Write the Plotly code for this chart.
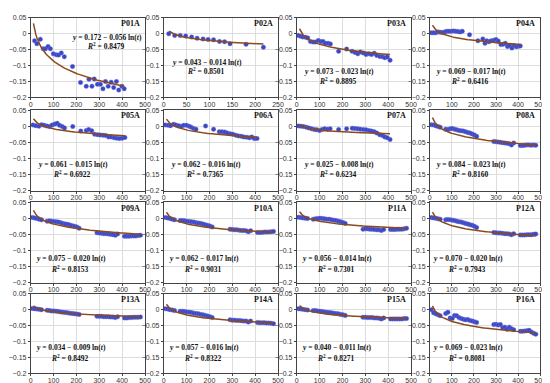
import numpy as np
import plotly.graph_objects as go

names = ["P01A", "P02A", "P03A", "P04A", "P05A", "P06A", "P07A", "P08A",
         "P09A", "P10A", "P11A", "P12A", "P13A", "P14A", "P15A", "P16A"]
coef_a = [0.172, 0.043, 0.073, 0.069, 0.061, 0.062, 0.025, 0.084,
          0.075, 0.062, 0.056, 0.070, 0.034, 0.057, 0.040, 0.069]
coef_b = [0.056, 0.014, 0.023, 0.017, 0.015, 0.016, 0.008, 0.023,
          0.020, 0.017, 0.014, 0.020, 0.009, 0.016, 0.011, 0.023]
r2_text = ["0.8479", "0.8501", "0.8895", "0.6416", "0.6922", "0.7365", "0.6234", "0.8160",
           "0.8153", "0.9031", "0.7301", "0.7943", "0.8492", "0.8322", "0.8271", "0.8081"]

x_ticks_main = [0, 100, 200, 300, 400, 500]
x_ticks_p02 = [0, 50, 100, 150, 200, 250]
y_ticks = [-0.2, -0.15, -0.1, -0.05, 0, 0.05]

t_p01 = [17, 27, 42, 55, 65, 76, 86, 99, 112, 122, 134, 147, 183, 218, 243, 255, 268, 278, 292, 305,
         316, 327, 339, 352, 363, 375, 385, 399, 409]
y_p01 = [-0.022, -0.031, -0.017, -0.047, -0.047, -0.040, -0.047, -0.063, -0.066, -0.067, -0.060, -0.072,
         -0.103, -0.153, -0.165, -0.143, -0.165, -0.142, -0.159, -0.159, -0.173, -0.150, -0.165, -0.152,
         -0.169, -0.150, -0.177, -0.165, -0.173]

t_p02 = [11, 24, 36, 48, 61, 73, 86, 97, 109, 122, 133, 145, 180, 218]
y_p02 = [0.000, -0.005, -0.005, -0.007, -0.010, -0.014, -0.016, -0.018, -0.019, -0.024, -0.025, -0.031,
         -0.033, -0.042]

t_p03 = [7, 17, 27, 39, 48, 60, 72, 82, 94, 105, 115, 125, 137, 147, 183, 218, 242, 255, 267, 278, 291,
         303, 316, 327, 339, 350, 363, 375, 385, 396, 408]
y_p03 = [-0.005, -0.008, -0.010, -0.011, -0.013, -0.024, -0.026, -0.026, -0.021, -0.024, -0.024, -0.030,
         -0.030, -0.032, -0.055, -0.048, -0.055, -0.059, -0.063, -0.057, -0.060, -0.065, -0.063, -0.065,
         -0.061, -0.068, -0.071, -0.072, -0.075, -0.073, -0.083]

t_p04 = [7, 17, 27, 37, 47, 57, 67, 77, 87, 97, 107, 117, 127, 137, 147, 180, 218, 240, 250, 258, 268,
         278, 290, 300, 310, 322, 332, 342, 352, 362, 372, 382, 392, 402, 410]
y_p04 = [0.003, 0.003, 0.003, 0.006, 0.005, 0.004, 0.006, 0.008, 0.008, 0.008, 0.009, 0.008, 0.007,
         0.006, 0.008, -0.003, -0.022, -0.016, -0.030, -0.022, -0.025, -0.022, -0.020, -0.018, -0.023,
         -0.034, -0.033, -0.030, -0.040, -0.037, -0.045, -0.037, -0.041, -0.039, -0.038]

t_p05 = [10, 22, 36, 48, 59, 71, 82, 94, 106, 116, 126, 138, 148, 184, 219, 243, 254, 267, 280, 293,
         304, 317, 329, 341, 352, 365, 377, 388, 400, 412]
y_p05 = [0.004, 0.002, 0.000, 0.005, 0.003, 0.001, -0.001, 0.004, 0.007, 0.009, 0.003, -0.001, -0.005,
         -0.001, -0.015, -0.013, -0.010, -0.014, -0.025, -0.026, -0.027, -0.028, -0.029, -0.033, -0.033,
         -0.036, -0.037, -0.038, -0.037, -0.035]

t_p06 = [7, 19, 30, 43, 53, 65, 77, 88, 100, 111, 120, 131, 141, 183, 218, 243, 255, 267, 278, 291,
         303, 316, 327, 339, 350, 363, 375, 385, 396, 408]
y_p06 = [0.004, 0.003, 0.002, 0.006, 0.004, 0.002, 0.000, 0.003, 0.003, 0.000, -0.003, -0.007, -0.009,
         0.001, -0.009, -0.017, -0.017, -0.018, -0.021, -0.023, -0.025, -0.028, -0.030, -0.031, -0.033,
         -0.034, -0.036, -0.033, -0.038, -0.038]

t_p07 = [7, 19, 30, 42, 53, 65, 77, 88, 100, 111, 122, 134, 146, 183, 218, 243, 255, 267, 278, 291,
         303, 316, 327, 339, 350, 363, 375, 385, 396, 408]
y_p07 = [0.001, 0.000, -0.001, -0.003, -0.005, -0.008, -0.010, -0.011, -0.013, -0.010, -0.008, -0.009,
         -0.008, -0.010, -0.008, -0.006, -0.007, -0.008, -0.009, -0.010, -0.011, -0.013, -0.015, -0.017,
         -0.021, -0.026, -0.029, -0.033, -0.036, -0.041]

t_long = [7, 17, 27, 37, 47, 72, 82, 92, 102, 112, 122, 132, 142, 152, 162, 172, 182, 192, 202, 212,
          290, 300, 310, 320, 330, 340, 350, 360, 370, 380, 410, 420, 430, 440, 450, 460, 470, 480]

y_p08 = [0.005, 0.004, 0.002, -0.001, -0.003, -0.009, -0.010, -0.008, -0.007, -0.009, -0.011, -0.013,
         -0.014, -0.015, -0.017, -0.019, -0.021, -0.024, -0.027, -0.031, -0.047, -0.048, -0.049, -0.050,
         -0.051, -0.052, -0.053, -0.054, -0.058, -0.052, -0.060, -0.060, -0.059, -0.058, -0.058, -0.059,
         -0.058, -0.059]
y_p09 = [0.003, 0.002, 0.000, -0.002, -0.004, -0.008, -0.007, -0.008, -0.009, -0.010, -0.011, -0.013,
         -0.015, -0.017, -0.018, -0.020, -0.022, -0.024, -0.026, -0.030, -0.044, -0.045, -0.046, -0.047,
         -0.047, -0.048, -0.049, -0.050, -0.052, -0.048, -0.055, -0.055, -0.055, -0.054, -0.054, -0.054,
         -0.053, -0.052]
y_p10 = [0.003, 0.002, 0.000, -0.002, -0.004, -0.006, -0.006, -0.007, -0.008, -0.009, -0.010, -0.011,
         -0.013, -0.014, -0.015, -0.017, -0.019, -0.021, -0.023, -0.026, -0.033, -0.034, -0.035, -0.035,
         -0.036, -0.037, -0.037, -0.038, -0.041, -0.038, -0.043, -0.043, -0.043, -0.042, -0.042, -0.042,
         -0.041, -0.040]
y_p11 = [0.004, 0.003, 0.002, 0.001, 0.000, -0.002, -0.001, 0.000, 0.001, 0.000, -0.001, -0.002,
         -0.002, -0.004, -0.005, -0.006, -0.008, -0.010, -0.012, -0.015, -0.033, -0.032, -0.032, -0.033,
         -0.033, -0.034, -0.035, -0.035, -0.037, -0.034, -0.034, -0.034, -0.034, -0.033, -0.033, -0.033,
         -0.032, -0.030]
y_p12 = [0.003, 0.002, 0.001, -0.001, -0.002, -0.004, -0.003, -0.004, -0.005, -0.006, -0.008, -0.010,
         -0.011, -0.013, -0.015, -0.017, -0.019, -0.021, -0.024, -0.028, -0.043, -0.044, -0.045, -0.045,
         -0.046, -0.047, -0.047, -0.048, -0.050, -0.047, -0.051, -0.051, -0.051, -0.050, -0.050, -0.050,
         -0.049, -0.048]
y_p13 = [0.004, 0.003, 0.002, 0.001, 0.000, -0.002, -0.003, -0.004, -0.004, -0.005, -0.006, -0.007,
         -0.008, -0.009, -0.010, -0.011, -0.012, -0.013, -0.014, -0.015, -0.021, -0.021, -0.021, -0.022,
         -0.022, -0.022, -0.023, -0.023, -0.025, -0.022, -0.026, -0.026, -0.025, -0.025, -0.024, -0.024,
         -0.024, -0.023]
y_p14 = [0.003, 0.002, 0.000, -0.001, -0.003, -0.005, -0.005, -0.006, -0.007, -0.008, -0.009, -0.011,
         -0.012, -0.013, -0.015, -0.016, -0.018, -0.020, -0.022, -0.025, -0.032, -0.033, -0.033, -0.034,
         -0.034, -0.035, -0.036, -0.036, -0.039, -0.036, -0.040, -0.041, -0.041, -0.041, -0.042, -0.042,
         -0.043, -0.044]
y_p15 = [0.003, 0.002, 0.001, 0.000, -0.001, -0.003, -0.003, -0.004, -0.005, -0.006, -0.007, -0.008,
         -0.009, -0.010, -0.011, -0.012, -0.013, -0.015, -0.016, -0.018, -0.024, -0.024, -0.025, -0.025,
         -0.025, -0.026, -0.026, -0.027, -0.029, -0.026, -0.029, -0.029, -0.029, -0.029, -0.029, -0.029,
         -0.028, -0.028]
y_p16 = [0.000, -0.010, -0.013, -0.016, -0.019, -0.012, -0.008, -0.026, -0.028, -0.018, -0.019, -0.025,
         -0.028, -0.030, -0.032, -0.031, -0.034, -0.036, -0.038, -0.040, -0.047, -0.046, -0.048, -0.047,
         -0.057, -0.055, -0.062, -0.055, -0.060, -0.063, -0.068, -0.068, -0.067, -0.066, -0.065, -0.070,
         -0.074, -0.077]

t_all = [t_p01, t_p02, t_p03, t_p04, t_p05, t_p06, t_p07, t_long,
         t_long, t_long, t_long, t_long, t_long, t_long, t_long, t_long]
y_all = [y_p01, y_p02, y_p03, y_p04, y_p05, y_p06, y_p07, y_p08,
         y_p09, y_p10, y_p11, y_p12, y_p13, y_p14, y_p15, y_p16]

# layout geometry (pixels)
W, H = 550, 383
col_px = [(21, 137), (156, 272), (291, 407), (426, 538)]
row_px = [(6, 87), (100, 182), (194, 276), (287, 368)]

DOT = "#3b46c4"
CURVE = "#8a4a1c"
SERIF = "Liberation Serif"
SANS = "Liberation Sans"

fig = go.Figure()
layout = {}
annotations = []

for i in range(16):
    r, c = divmod(i, 4)
    k = "" if i == 0 else str(i + 1)
    xa, ya = "x" + k, "y" + k
    x0, x1 = col_px[c]
    y0, y1 = row_px[r]
    is_p02 = (i == 1)
    layout["xaxis" + k] = dict(
        domain=[x0 / W, x1 / W], anchor=ya,
        range=[0, 250] if is_p02 else [0, 500],
        tickvals=x_ticks_p02 if is_p02 else x_ticks_main,
        showgrid=True, gridcolor="#dedede", gridwidth=0.6, zeroline=False,
        showline=True, linecolor="#444", linewidth=0.7, mirror=True,
        ticks="outside", ticklen=2, tickcolor="#444",
        ticklabelstandoff=-2, ticklabeloverflow="allow",
        tickfont=dict(family=SANS, size=7, color="#333"),
    )
    layout["yaxis" + k] = dict(
        domain=[1 - y1 / H, 1 - y0 / H], anchor=xa,
        range=[-0.2, 0.05], tickvals=y_ticks,
        ticktext=["\u22120.2", "\u22120.15", "\u22120.1", "\u22120.05", "0", "0.05"],
        showgrid=True, gridcolor="#dedede", gridwidth=0.6, zeroline=False,
        showline=True, linecolor="#444", linewidth=0.7, mirror=True,
        ticks="outside", ticklen=2, tickcolor="#444",
        ticklabeloverflow="allow",
        tickfont=dict(family=SANS, size=7, color="#333"),
    )

    t = t_all[i]
    fig.add_trace(go.Scatter(
        x=t, y=y_all[i], mode="markers", xaxis=xa, yaxis=ya,
        marker=dict(size=4.5, color=DOT, line=dict(width=0.4, color="#6f78e0")),
        showlegend=False, hoverinfo="skip"))

    tc = np.linspace(12, max(t), 80)
    fig.add_trace(go.Scatter(
        x=tc, y=coef_a[i] - coef_b[i] * np.log(tc), mode="lines", xaxis=xa, yaxis=ya,
        line=dict(color=CURVE, width=1.5), showlegend=False, hoverinfo="skip"))

    # panel label
    annotations.append(dict(
        text="<b>" + names[i] + "</b>", xref=xa + " domain", yref=ya + " domain",
        x=0.97, y=0.93, xanchor="right", yanchor="middle", showarrow=False,
        font=dict(family=SERIF, size=8, color="#111")))

    if i == 0:
        ex, ey1, ey2 = 0.67, 0.75, 0.65
    elif i == 1:
        ex, ey1, ey2 = 0.38, 0.44, 0.33
    elif r < 2:
        ex, ey1, ey2 = 0.37, 0.32, 0.21
    elif r == 2:
        ex, ey1, ey2 = 0.35, 0.31, 0.17
    else:
        ex, ey1, ey2 = 0.35, 0.32, 0.19

    eq = "<b><i>y</i> = %.3f \u2212 %.3f ln(<i>t</i>)</b>" % (coef_a[i], coef_b[i])
    rr = "<b><i>R</i><sup>2</sup> = %s</b>" % r2_text[i]
    annotations.append(dict(
        text=eq, xref=xa + " domain", yref=ya + " domain",
        x=ex, y=ey1, xanchor="center", yanchor="middle", showarrow=False,
        font=dict(family=SERIF, size=7.5, color="#111")))
    annotations.append(dict(
        text=rr, xref=xa + " domain", yref=ya + " domain",
        x=ex - 0.01, y=ey2, xanchor="center", yanchor="middle", showarrow=False,
        font=dict(family=SERIF, size=7.5, color="#111")))

fig.update_layout(
    width=W, height=H,
    margin=dict(l=0, r=0, t=0, b=0),
    paper_bgcolor="white", plot_bgcolor="white",
    annotations=annotations,
    **layout,
)

fig.write_html("out.html")
